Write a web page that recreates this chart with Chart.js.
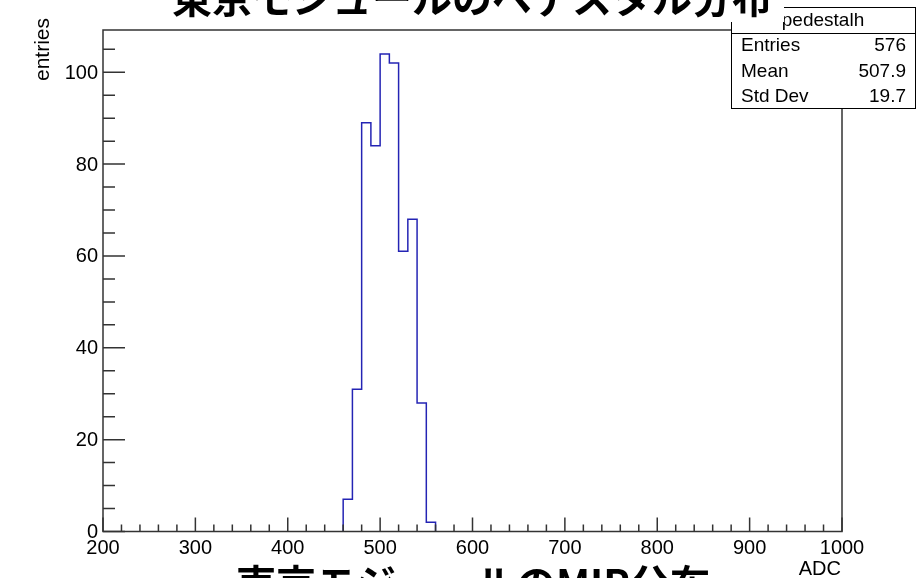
<!DOCTYPE html>
<html>
<head>
<meta charset="utf-8">
<script src="https://cdn.jsdelivr.net/npm/chart.js@4.4.1/dist/chart.umd.min.js"></script>
<style>
  html, body { margin: 0; padding: 0; background: #fff; }
  #wrap { width: 916px; height: 578px; position: relative; }
</style>
</head>
<body>
<div id="wrap"><canvas id="hist"></canvas></div>
<script>
// pedestal histogram, 10 ADC bins (only non-empty bins listed)
const binLow = [460, 470, 480, 490, 500, 510, 520, 530, 540, 550];
const counts = [7, 31, 89, 84, 104, 102, 61, 68, 28, 2];
const binWidth = 10;

const xTicks = [200, 300, 400, 500, 600, 700, 800, 900, 1000];
const yTicks = [0, 20, 40, 60, 80, 100];

const statsName = 'pedestalh';
const statsRows = [['Entries', '576'], ['Mean', '507.9'], ['Std Dev', '19.7']];

const titleTop = '東京モジュールのペデスタル分布';
const titleBottom = '東京モジュールのMIP分布';

// outline points: left edge of each bin carries that bin's count
const outline = [{ x: binLow[0], y: 0 }]
  .concat(binLow.map((x, i) => ({ x: x, y: counts[i] })))
  .concat([{ x: binLow[binLow.length - 1] + binWidth, y: 0 }]);

const SANS = '"Liberation Sans", Arial, sans-serif';
const CJK = '"Noto Sans CJK JP", sans-serif';

// ROOT style frame, inward ticks, stats box and titles
const rootFrame = {
  id: 'rootFrame',
  afterDatasetsDraw(chart) {
    const { ctx, chartArea: a, scales: { x, y } } = chart;
    ctx.save();
    ctx.strokeStyle = '#333';
    ctx.lineWidth = 1.5;
    ctx.strokeRect(a.left, a.top, a.right - a.left, a.bottom - a.top);

    ctx.beginPath();
    for (let v = 200; v <= 1000; v += 20) {
      const px = x.getPixelForValue(v);
      const len = v % 100 === 0 ? 14 : 7;
      ctx.moveTo(px, a.bottom);
      ctx.lineTo(px, a.bottom - len);
    }
    for (let v = 0; v <= 105; v += 5) {
      const py = y.getPixelForValue(v);
      const len = v % 20 === 0 ? 22 : 12;
      ctx.moveTo(a.left, py);
      ctx.lineTo(a.left + len, py);
    }
    ctx.stroke();

    ctx.fillStyle = '#000';
    ctx.font = '20px ' + SANS;
    ctx.textAlign = 'center';
    ctx.textBaseline = 'alphabetic';
    xTicks.forEach(v => ctx.fillText(String(v), x.getPixelForValue(v), a.bottom + 22));
    ctx.textAlign = 'right';
    ctx.textBaseline = 'middle';
    yTicks.forEach(v => ctx.fillText(String(v), a.left - 5, y.getPixelForValue(v) + 1));

    // axis titles
    ctx.textBaseline = 'alphabetic';
    ctx.fillText('ADC', a.right - 1, 575);
    ctx.save();
    ctx.translate(49, 18);
    ctx.rotate(-Math.PI / 2);
    ctx.font = '21px ' + SANS;
    ctx.textAlign = 'right';
    ctx.fillText('entries', 0, 0);
    ctx.restore();

    // stats box
    const bx = 731, by = 7, bw = 184, bh = 101;
    ctx.fillStyle = '#fff';
    ctx.fillRect(bx, by, bw, bh);
    ctx.strokeStyle = '#000';
    ctx.lineWidth = 1;
    ctx.strokeRect(bx + 0.5, by + 0.5, bw, bh);
    ctx.beginPath();
    ctx.moveTo(bx, 33.5);
    ctx.lineTo(bx + bw, 33.5);
    ctx.stroke();
    ctx.fillStyle = '#000';
    ctx.font = '19px ' + SANS;
    ctx.textAlign = 'center';
    ctx.textBaseline = 'middle';
    ctx.fillText(statsName, bx + bw / 2, 21);
    statsRows.forEach((r, i) => {
      const ty = 46 + i * 25.5;
      ctx.textAlign = 'left';
      ctx.fillText(r[0], 741, ty);
      ctx.textAlign = 'right';
      ctx.fillText(r[1], 906, ty);
    });

    // titles (the top one sits in a white box over the stats corner)
    ctx.fillStyle = '#fff';
    ctx.fillRect(160, 0, 624, 22);
    ctx.fillStyle = '#000';
    ctx.font = 'bold 40px ' + CJK;
    ctx.textAlign = 'center';
    ctx.textBaseline = 'alphabetic';
    ctx.fillText(titleTop, 472, 13);
    ctx.fillText(titleBottom, 473, 599);
    ctx.restore();
  }
};

new Chart(document.getElementById('hist'), {
  type: 'scatter',
  data: {
    datasets: [{
      data: outline,
      showLine: true,
      stepped: 'before',
      borderColor: '#2424b4',
      borderWidth: 1.5,
      pointRadius: 0,
      fill: false
    }]
  },
  options: {
    responsive: true,
    maintainAspectRatio: false,
    animation: false,
    layout: { padding: { left: 103, right: 74, top: 30, bottom: 46.5 } },
    plugins: { legend: { display: false }, tooltip: { enabled: false } },
    scales: {
      x: { type: 'linear', min: 200, max: 1000, display: false },
      y: { type: 'linear', min: 0, max: 109.2, display: false }
    }
  },
  plugins: [rootFrame]
});
</script>
</body>
</html>
